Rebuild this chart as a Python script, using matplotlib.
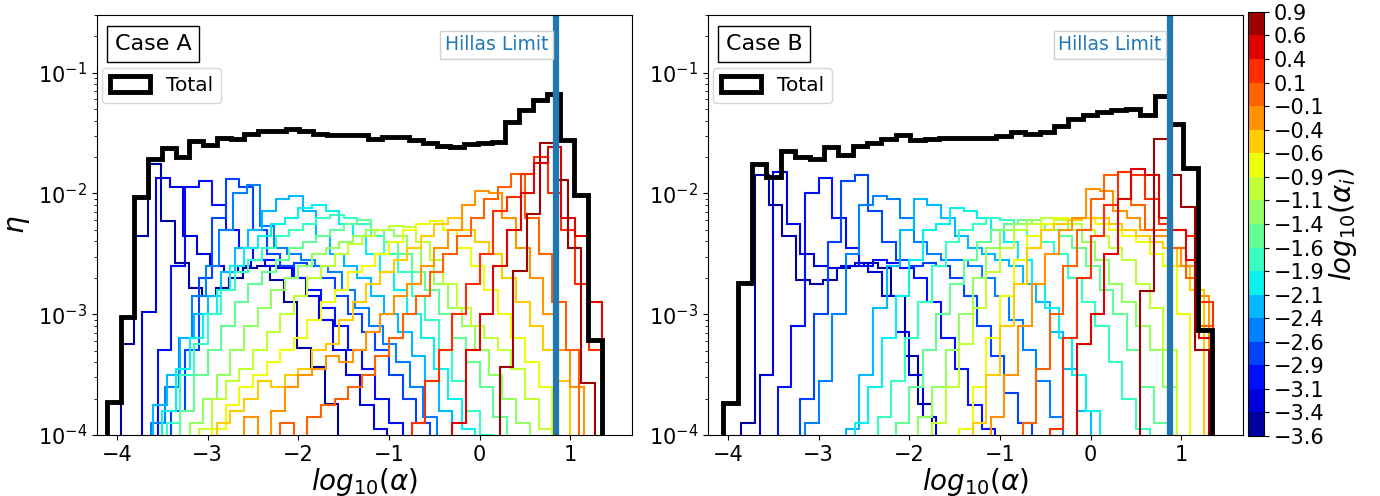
import numpy as np
import matplotlib
matplotlib.use('Agg')
import matplotlib.pyplot as plt
import matplotlib.transforms as mtransforms
from matplotlib.colors import ListedColormap, BoundaryNorm
from matplotlib.cm import ScalarMappable
from matplotlib.patches import Patch

# colorbar labels, bottom to top (log10 of alpha_i)
cbar_labels = ['-3.6', '-3.4', '-3.1', '-2.9', '-2.6', '-2.4', '-2.1', '-1.9', '-1.6',
               '-1.4', '-1.1', '-0.9', '-0.6', '-0.4', '-0.1', '0.1', '0.4', '0.6', '0.9']

# Hillas limit, log10(alpha)
hillas_a = 0.84
hillas_b = 0.87

# width of the bins of the single-alpha histograms
part_bin_w = 0.15

# ---- Case A ----
case_a_range = (-4.11, 1.344)
# log10(eta) of the total histogram
case_a_total = [-3.727, -3.022, -2.03, -1.719, -1.628, -1.70, -1.570, -1.603, -1.54, -1.554,
                -1.512, -1.485, -1.48, -1.466, -1.485, -1.507, -1.52, -1.52, -1.515, -1.548,
                -1.535, -1.535, -1.562, -1.585, -1.612, -1.617, -1.595, -1.585, -1.576, -1.411,
                -1.309, -1.231, -1.176, -1.555, -2.017, -3.215]
# first bin edge of every single-alpha histogram
case_a_lo = [-3.96, -3.72, -3.55, -3.4, -3.62, -3.6, -3.5, -3.45, -3.3, -3.2,
             -3.1, -2.95, -2.9, -2.6, -2.2, -0.75, -0.3, 0.22]
# log10(eta) of every single-alpha histogram, navy -> dark red
case_a_parts = [
    [-3.25, -2.35, -1.76, -2.23, -2.58, -2.78, -2.85, -2.78, -2.7, -2.62, -2.6, -2.72, -2.9, -3.28, -3.44, -3.74],
    [-2.98, -1.87, -1.95, -2.35, -2.5, -2.6, -2.65, -2.6, -2.55, -2.6, -2.62, -2.7, -2.85, -3.05, -3.3, -3.5, -3.75, -3.95],
    [-3.3, -2.6, -1.95, -1.9, -2.1, -2.3, -2.45, -2.55, -2.55, -2.6, -2.7, -2.8, -2.95, -3.1, -3.3, -3.45, -3.7, -3.9],
    [-3.8, -3.3, -2.7, -2.2, -1.88, -1.95, -2.3, -2.5, -2.6, -2.58, -2.6, -2.7, -2.85, -3.0, -3.15, -3.3, -3.5, -3.7, -3.9],
    [-3.9, -3.6, -3.2, -2.85, -2.6, -2.3, -2.0, -1.93, -2.27, -2.45, -2.5, -2.55, -2.6, -2.65, -2.8, -2.95, -3.1, -3.25, -3.4, -3.6, -3.85],
    [-3.75, -3.5, -3.2, -3.0, -2.85, -2.65, -2.45, -2.3, -2.15, -2.05, -2.02, -2.15, -2.35, -2.5, -2.6, -2.7, -2.85, -3.0, -3.15, -3.35, -3.55, -3.8],
    [-3.8, -3.45, -3.2, -3.0, -2.8, -2.6, -2.45, -2.35, -2.25, -2.2, -2.12, -2.1, -2.15, -2.25, -2.35, -2.5, -2.65, -2.8, -3.0, -3.2, -3.45, -3.7, -3.95],
    [-3.9, -3.5, -3.25, -3.0, -2.8, -2.65, -2.55, -2.45, -2.35, -2.3, -2.25, -2.2, -2.18, -2.2, -2.25, -2.35, -2.5, -2.65, -2.85, -3.05, -3.3, -3.55, -3.8, -4.0],
    [-3.8, -3.5, -3.3, -3.1, -2.9, -2.75, -2.65, -2.55, -2.45, -2.4, -2.35, -2.3, -2.25, -2.22, -2.3, -2.4, -2.5, -2.65, -2.8, -3.0, -3.2, -3.4, -3.6, -3.85],
    [-3.9, -3.7, -3.5, -3.3, -3.1, -2.95, -2.8, -2.7, -2.6, -2.5, -2.45, -2.4, -2.35, -2.3, -2.3, -2.35, -2.45, -2.6, -2.75, -2.95, -3.1, -3.3, -3.5, -3.7, -3.9],
    [-3.95, -3.7, -3.55, -3.45, -3.3, -3.15, -3.0, -2.85, -2.7, -2.6, -2.5, -2.42, -2.35, -2.3, -2.27, -2.28, -2.4, -2.55, -2.75, -2.95, -3.1, -3.2, -3.3, -3.45, -3.7, -3.95],
    [-3.95, -3.75, -3.6, -3.5, -3.4, -3.3, -3.2, -3.05, -2.9, -2.8, -2.65, -2.6, -2.5, -2.4, -2.3, -2.25, -2.23, -2.3, -2.45, -2.6, -2.8, -3.0, -3.2, -3.4, -3.6],
    [-3.9, -3.8, -3.7, -3.55, -3.6, -3.5, -3.45, -3.3, -3.25, -3.05, -2.9, -2.75, -2.65, -2.55, -2.45, -2.35, -2.25, -2.2, -2.3, -2.4, -2.5, -2.7, -2.9, -3.1, -3.3, -3.55],
    [-3.85, -4.1, -3.8, -3.6, -3.5, -3.45, -3.35, -3.4, -3.3, -3.15, -3.0, -2.85, -2.75, -2.6, -2.45, -2.3, -2.1, -1.98, -2.0, -2.2, -2.45, -2.7, -3.0, -3.3, -3.6],
    [-3.9, -4.1, -3.85, -3.75, -3.7, -3.6, -3.5, -3.35, -3.2, -3.0, -2.85, -2.65, -2.5, -2.35, -2.2, -2.05, -1.95, -1.84, -2.2, -2.5, -2.9, -3.3],
    [-3.9, -3.55, -3.3, -3.0, -2.75, -2.5, -2.15, -2.03, -1.84, -1.70, -2.0, -2.3, -2.75, -3.3],
    [-3.9, -3.3, -3.0, -2.6, -2.3, -2.0, -1.75, -1.62, -2.2, -2.35, -2.9],
    [-3.44, -2.64, -2.17, -1.58, -1.89, -2.45, -3.57],
]

# ---- Case B ----
case_b_range = (-4.05, 1.339)
case_b_total = [-3.735, -2.741, -1.758, -1.865, -1.650, -1.70, -1.715, -1.62, -1.68, -1.61,
                -1.585, -1.554, -1.521, -1.562, -1.554, -1.54, -1.54, -1.545, -1.545, -1.525,
                -1.493, -1.51, -1.49, -1.446, -1.383, -1.355, -1.327, -1.31, -1.30, -1.355,
                -1.196, -1.424, -1.788, -3.132]
case_b_lo = [-3.85, -3.65, -3.45, -3.2, -3.15, -2.7, -2.6, -2.35, -2.15, -1.9,
             -1.75, -1.45, -1.3, -1.1, -0.75, -0.45, -0.15, 0.55]
case_b_parts = [
    [-3.9, -1.85, -2.1, -2.35, -2.72, -2.75, -2.72, -2.62, -2.6, -2.58, -2.62, -2.85, -3.35, -3.74],
    [-3.5, -1.82, -2.25, -2.5, -2.6, -2.62, -2.6, -2.58, -2.65, -2.85, -3.15, -3.5, -3.85],
    [-3.6, -3.1, -2.0, -1.87, -2.2, -2.45, -2.6, -2.55, -2.58, -2.62, -2.7, -2.9, -3.2, -3.45, -3.75, -3.95],
    [-3.7, -3.0, -2.4, -1.9, -1.85, -2.15, -2.4, -2.55, -2.6, -2.58, -2.6, -2.7, -2.85, -3.1, -3.35, -3.65, -3.9],
    [-3.9, -3.55, -3.0, -2.5, -2.1, -2.02, -2.05, -2.2, -2.4, -2.5, -2.55, -2.55, -2.6, -2.7, -2.85, -3.05, -3.3, -3.55, -3.85],
    [-3.95, -3.5, -2.95, -2.6, -2.3, -2.05, -2.1, -2.2, -2.35, -2.45, -2.5, -2.55, -2.6, -2.75, -2.9, -3.15, -3.45, -3.8],
    [-3.9, -3.6, -3.2, -2.85, -2.55, -2.3, -2.25, -2.12, -2.15, -2.2, -2.3, -2.4, -2.55, -2.75, -2.95, -3.2, -3.5, -3.8],
    [-3.85, -3.55, -3.2, -2.9, -2.6, -2.4, -2.3, -2.25, -2.2, -2.22, -2.3, -2.35, -2.4, -2.5, -2.7, -2.9, -3.1, -3.4, -3.7, -3.95],
    [-3.9, -3.6, -3.3, -3.0, -2.75, -2.55, -2.4, -2.3, -2.25, -2.22, -2.25, -2.3, -2.35, -2.45, -2.6, -2.8, -3.0, -3.3, -3.6, -3.9],
    [-3.85, -3.6, -3.3, -3.0, -2.7, -2.45, -2.3, -2.25, -2.22, -2.2, -2.25, -2.3, -2.4, -2.55, -2.75, -2.9, -3.1, -3.3, -3.6],
    [-3.9, -3.6, -3.25, -2.95, -2.65, -2.45, -2.3, -2.25, -2.2, -2.22, -2.25, -2.3, -2.35, -2.45, -2.55, -2.75, -2.95, -3.3],
    [-3.95, -3.6, -3.2, -2.85, -2.55, -2.35, -2.25, -2.2, -2.22, -2.2, -2.25, -2.3, -2.35, -2.4, -2.5, -2.6, -3.0],
    [-3.9, -3.5, -3.1, -2.75, -2.45, -2.3, -2.25, -2.22, -2.2, -2.2, -2.25, -2.3, -2.35, -2.4, -2.45, -2.6, -2.8],
    [-3.85, -3.5, -3.1, -2.75, -2.5, -2.3, -2.2, -1.96, -1.98, -2.15, -2.2, -2.3, -2.35, -2.45, -2.6, -2.85],
    [-3.9, -3.45, -3.0, -2.6, -2.3, -2.05, -1.85, -1.82, -2.1, -2.3, -2.3, -2.45, -2.7, -3.1],
    [-3.95, -3.2, -2.7, -2.35, -2.1, -1.82, -1.85, -2.05, -2.25, -2.3, -2.35, -2.9],
    [-3.25, -3.0, -2.5, -2.05, -1.8, -1.85, -2.2, -2.3, -2.55, -3.2],
    [-2.81, -1.55, -1.85, -2.11, -3.3],
]

n_colors = len(cbar_labels) - 1
colors = plt.cm.jet((np.arange(n_colors) + 0.5) / n_colors)
cmap = ListedColormap(colors)


def draw_panel(ax, xrange_, total, parts_lo, parts, hillas, case):
    """Draws one panel: single-alpha histograms, total, Hillas limit."""
    for i, (start, vals) in enumerate(zip(parts_lo, parts)):
        edges = start + part_bin_w * np.arange(len(vals) + 1)
        ax.stairs(10.0 ** np.array(vals), edges, baseline=1e-6,
                  color=colors[i], lw=1.5)

    edges = np.linspace(xrange_[0], xrange_[1], len(total) + 1)
    ax.stairs(10.0 ** np.array(total), edges, baseline=1e-6, color='black', lw=3.5)
    ax.axvline(hillas, color='#1f77b4', lw=4.5)

    ax.set_yscale('log')
    ax.set_ylim(1e-4, 0.3)
    ax.set_xlim(-4.22, 1.68)
    ax.set_xticks([-4, -3, -2, -1, 0, 1])
    ax.tick_params(labelsize=15)
    ax.set_xlabel(r'$log_{10}(\alpha)$', fontsize=20, labelpad=1)

    ax.text(0.033, 0.955, case, transform=ax.transAxes, ha='left', va='top',
            fontsize=16, bbox=dict(boxstyle='square,pad=0.35', fc='white', ec='black'))

    trans = mtransforms.blended_transform_factory(ax.transData, ax.transAxes)
    ax.text(hillas - 0.085, 0.929, 'Hillas Limit', transform=trans, ha='right',
            va='center', color='#1f77b4', fontsize=13.5,
            bbox=dict(boxstyle='square,pad=0.25', fc='white', ec='#d0d0d0'))

    ax.legend(handles=[Patch(fc='none', ec='black', lw=3.5, label='Total')],
              loc='upper left', bbox_to_anchor=(0.009, 0.874), borderaxespad=0,
              fontsize=14.5, handleheight=0.8)


fig = plt.figure(figsize=(13.8, 4.96), dpi=100)
ax_a = fig.add_axes([0.0703, 0.123, 0.3877, 0.847])
ax_b = fig.add_axes([0.513, 0.123, 0.3877, 0.847])

draw_panel(ax_a, case_a_range, case_a_total, case_a_lo, case_a_parts, hillas_a, 'Case A')
draw_panel(ax_b, case_b_range, case_b_total, case_b_lo, case_b_parts, hillas_b, 'Case B')
ax_a.set_ylabel(r'$\eta$', fontsize=20)

cax = fig.add_axes([0.9043, 0.121, 0.0116, 0.855])
sm = ScalarMappable(norm=BoundaryNorm(np.arange(n_colors + 1), n_colors), cmap=cmap)
cb = fig.colorbar(sm, cax=cax, ticks=np.arange(n_colors + 1))
cb.ax.set_yticklabels([s.replace('-', '\u2212') for s in cbar_labels], fontsize=15)
cb.set_label(r'$log_{10}(\alpha_i)$', fontsize=20, labelpad=2)

fig.savefig('out.png', dpi=100)
